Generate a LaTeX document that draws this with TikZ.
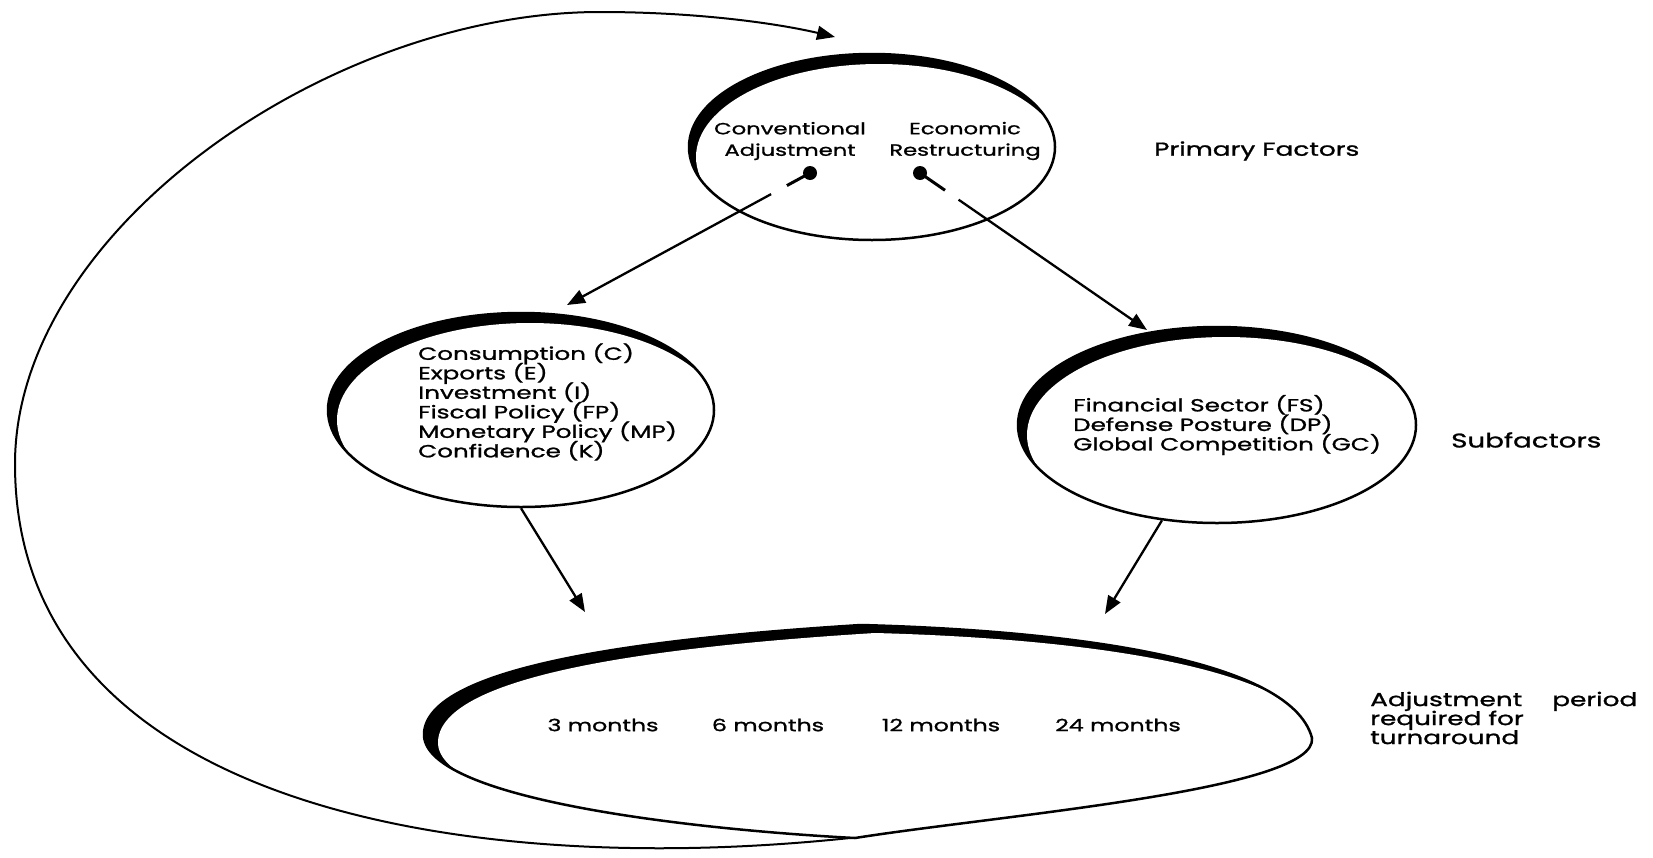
\documentclass[tikz,border=0pt]{standalone}
\usepackage{fontspec}
\setmainfont{Poppins}[FakeStretch=1.4,FakeBold=1.2]
\usetikzlibrary{shapes.geometric,arrows.meta,calc}
\newcommand{\tightlines}{\lineskiplimit=-100pt\lineskip=0pt}
\begin{document}
\begin{tikzpicture}[x=1pt,y=-1pt,
  ovl/.style={ellipse,draw,line width=2.5pt,inner sep=0pt},
  txt/.style={align=left,inner sep=0pt,anchor=west},
  ctxt/.style={align=center,inner sep=0pt},
  conn/.style={line width=2.3pt,-{Triangle[length=18pt,width=14pt]}},
  pin/.style={line width=3pt},
  ftop/.style={font=\fontsize{16.2}{21.5}\selectfont\tightlines},
  fin/.style={font=\fontsize{17.6}{19.5}\selectfont\tightlines},
  fmon/.style={font=\fontsize{16.9}{20}\selectfont\tightlines},
  fout/.style={font=\fontsize{18.8}{19}\selectfont\tightlines},
]
\useasboundingbox (0,0) rectangle (1653,857);
\fill[white] (0,0) rectangle (1653,857);

% primary factors ellipse
\fill (872,147) ellipse [x radius=183pt,y radius=93pt];
\fill[white] (879,157) ellipse [x radius=183pt,y radius=93pt];
\node[ovl,minimum width=366pt,minimum height=186pt] (prim) at (872,147) {};

% left subfactor ellipse
\fill (521,410) ellipse [x radius=193pt,y radius=97pt];
\fill[white] (530,420) ellipse [x radius=193pt,y radius=97pt];
\node[ovl,minimum width=386pt,minimum height=194pt] (sub1) at (521,410) {};

% right subfactor ellipse
\fill (1217,425) ellipse [x radius=199pt,y radius=98pt];
\fill[white] (1226,435) ellipse [x radius=199pt,y radius=98pt];
\node[ovl,minimum width=398pt,minimum height=196pt] (sub2) at (1217,425) {};

% adjustment period lemon
\fill (424,733) .. controls (428,670) and (620,640) .. (861,625) .. controls (1050,630) and (1290,655) .. (1312,738) .. controls (1318,790) and (1000,815) .. (855,838) .. controls (700,830) and (420,800) .. (424,733) -- cycle;
\fill[white,shift={(14,8)}] (424,733) .. controls (428,670) and (620,640) .. (861,625) .. controls (1050,630) and (1290,655) .. (1312,738) .. controls (1318,790) and (1000,815) .. (855,838) .. controls (700,830) and (420,800) .. (424,733) -- cycle;
\draw[line width=2.5pt] (424,733) .. controls (428,670) and (620,640) .. (861,625) .. controls (1050,630) and (1290,655) .. (1312,738) .. controls (1318,790) and (1000,815) .. (855,838) .. controls (700,830) and (420,800) .. (424,733) -- cycle;
\node[inner sep=0pt,minimum width=880pt,minimum height=200pt] (adj) at (868,731) {};

% texts
\node[ctxt,ftop] (ca) at (790,141) {Conventional\\Adjustment};
\node[ctxt,ftop] (er) at (965,141) {Economic\\Restructuring};
\node[txt,fin] (l1) at (418,402) {Consumption (C)\\Exports (E)\\Investment (I)\\Fiscal Policy (FP)\\Monetary Policy (MP)\\Confidence (K)};
\node[txt,fin] (r1) at (1073,425) {Financial Sector (FS)\\Defense Posture (DP)\\Global Competition (GC)};
\node[ctxt,fmon] (m3) at (603,725) {3 months};
\node[ctxt,fmon] (m6) at (768,725) {6 months};
\node[ctxt,fmon] (m12) at (941,725) {12 months};
\node[ctxt,fmon] (m24) at (1118,725) {24 months};
\node[txt,fout] (pf) at (1154,151) {Primary Factors};
\node[txt,fout,font=\fontsize{19.8}{19}\selectfont] (sf) at (1451,440) {Subfactors};
\node[txt,fout] (ap) at (1370,718) {Adjustment\hspace{30pt}period\\required for\\turnaround};

% pins and arrows from primary factors
\coordinate (dA) at (810,173);
\coordinate (dB) at (920,173);
\coordinate (tA) at (567,305);
\coordinate (tB) at (1147,330);
\fill (dA) circle (7pt);
\fill (dB) circle (7pt);
\draw[pin] (dA) -- ($(dA)!0.095!(tA)$);
\draw[conn] ($(dA)!0.16!(tA)$) -- (tA);
\draw[pin] (dB) -- ($(dB)!0.11!(tB)$);
\draw[conn] ($(dB)!0.17!(tB)$) -- (tB);

% arrows to adjustment period
\coordinate (tC) at (585,612);
\coordinate (tD) at (1105,614);
\draw[conn] (sub1.south) -- (tC);
\draw[conn] (sub2.-120) -- (tD);

% feedback loop
\coordinate (lb) at (850,838);
\coordinate (tE) at (835,37);
\draw[conn,line width=2pt] (lb) .. controls (450,880) and (15,800) .. (15,464) .. controls (15,230) and (330,12) .. (600,12) .. controls (700,12) and (780,24) .. (tE);
\end{tikzpicture}
\end{document}
